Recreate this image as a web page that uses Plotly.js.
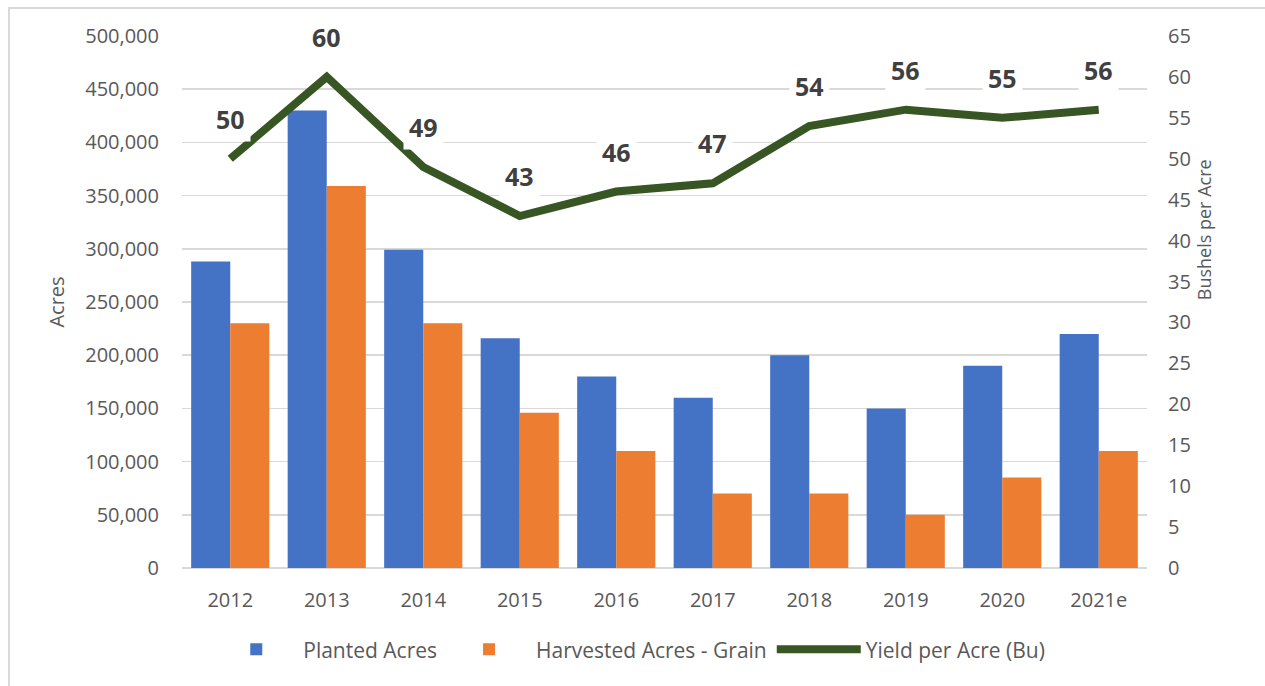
<!DOCTYPE html>
<html>
<head>
<meta charset="utf-8">
<script src="https://cdn.plot.ly/plotly-3.0.1.min.js"></script>
<style>
  html, body { margin: 0; padding: 0; background: #ffffff; }
  #wrap { position: relative; width: 1265px; height: 686px; overflow: hidden; }
  #frame { position: absolute; left: 8px; top: 7px; width: 1400px; height: 800px;
           border-left: 2px solid #d9d9d9; border-top: 2px solid #d9d9d9; pointer-events: none; }
  #chart { position: absolute; left: 0; top: 0; width: 1265px; height: 686px; }
</style>
</head>
<body>
<div id="wrap">
  <div id="chart"></div>
  <div id="frame"></div>
</div>
<script>
const years = ['2012', '2013', '2014', '2015', '2016', '2017', '2018', '2019', '2020', '2021e'];
const plantedAcres = [288000, 430000, 299000, 216000, 180000, 160000, 200000, 150000, 190000, 220000];
const harvestedAcres = [230000, 359000, 230000, 146000, 110000, 70000, 70000, 50000, 85000, 110000];
const yieldPerAcre = [50, 60, 49, 43, 46, 47, 54, 56, 55, 56];
const leftTicks = [0, 50000, 100000, 150000, 200000, 250000, 300000, 350000, 400000, 450000, 500000];
const rightTicks = [0, 5, 10, 15, 20, 25, 30, 35, 40, 45, 50, 55, 60, 65];

const FONT = '"Open Sans", "Liberation Sans", sans-serif';
const GREY = '#595959';

const traces = [
  {
    type: 'bar', name: 'Planted Acres', x: years, y: plantedAcres,
    marker: { color: '#4472c4', line: { width: 0 } }, yaxis: 'y'
  },
  {
    type: 'bar', name: 'Harvested Acres - Grain', x: years, y: harvestedAcres,
    marker: { color: '#ed7d31', line: { width: 0 } }, yaxis: 'y'
  },
  {
    type: 'scatter', mode: 'lines', name: 'Yield per Acre (Bu)', x: years, y: yieldPerAcre,
    line: { color: '#375623', width: 8 }, yaxis: 'y2'
  }
];

// category index positions for labels (avoid "2012" being read as a number)
const annotations = years.map((yr, i) => ({
  x: i, y: yieldPerAcre[i], xref: 'x', yref: 'y2',
  text: String(yieldPerAcre[i]), showarrow: false, yshift: 40,
  bgcolor: '#ffffff', borderpad: 5,
  font: { family: FONT, size: 25, color: '#404040', weight: 'bold' }
}));
annotations.push({
  xref: 'paper', yref: 'paper', x: 1.0736, y: 0.635, showarrow: false,
  text: 'Bushels per Acre', textangle: -90,
  font: { family: FONT, size: 18, color: GREY }
});

const layout = {
  width: 1265, height: 686,
  margin: { l: 182, r: 118, t: 36, b: 118 },
  paper_bgcolor: '#ffffff', plot_bgcolor: '#ffffff',
  barmode: 'group', bargap: 0.19, bargroupgap: 0,
  font: { family: FONT, color: GREY, size: 19 },
  showlegend: true,
  legend: {
    orientation: 'h', x: 0.464, xanchor: 'center', y: -0.115, yanchor: 'top',
    font: { family: FONT, size: 21, color: GREY }, itemwidth: 84,
    traceorder: 'normal'
  },
  xaxis: {
    type: 'category', categoryorder: 'array', categoryarray: years,
    range: [-0.5, years.length - 0.5], autorange: false,
    showgrid: false, zeroline: false, showline: false,
    ticks: '', tickfont: { family: FONT, size: 20, color: GREY }, ticklabelstandoff: 18
  },
  yaxis: {
    range: [0, 500000], autorange: false, tickvals: leftTicks, tickformat: ',d',
    showgrid: true, gridcolor: '#d9d9d9', gridwidth: 1.5,
    zeroline: true, zerolinecolor: '#d9d9d9', zerolinewidth: 1.5,
    showline: false, ticks: '', ticklabelstandoff: 22,
    tickfont: { family: FONT, size: 20, color: GREY },
    title: { text: 'Acres', standoff: 15, font: { family: FONT, size: 20, color: GREY } }
  },
  yaxis2: {
    overlaying: 'y', side: 'right', range: [0, 65], autorange: false, tickvals: rightTicks,
    showgrid: false, zeroline: false, showline: false, ticks: '', ticklabelstandoff: 20,
    tickfont: { family: FONT, size: 20, color: GREY }
  },
  annotations: annotations
};

Plotly.newPlot('chart', traces, layout, { displayModeBar: false, staticPlot: true });
</script>
</body>
</html>
